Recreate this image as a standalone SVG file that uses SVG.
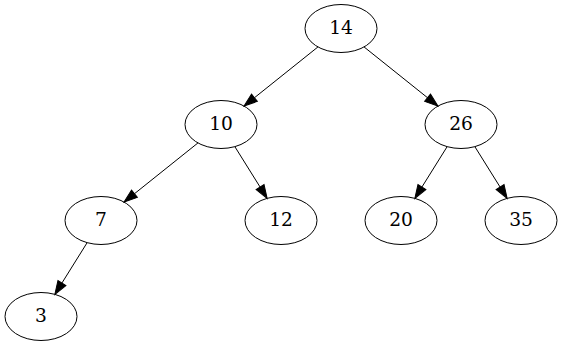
<svg xmlns="http://www.w3.org/2000/svg" width="563" height="347" viewBox="0 0 563 347">
<defs>
<style>
.node ellipse{fill:none;stroke:#000;stroke-width:1}
.node text{font-family:"DejaVu Serif",serif;font-size:18.67px;text-anchor:middle;fill:#000}
.edge line{stroke:#000;stroke-width:1;fill:none}
</style>
<marker id="arr" markerUnits="userSpaceOnUse" markerWidth="16" markerHeight="12" refX="0" refY="5" orient="auto" viewBox="-1 0 16 10" overflow="visible">
<path d="M0,0.33 L13.33,5 L0,9.67 Z" fill="#000" stroke="#000" stroke-width="1"/>
</marker>
</defs>
<rect width="563" height="347" fill="#fff"/>
<g id="edges" class="edge">
<line x1="317.96" y1="46.93" x2="254.45" y2="97.74" marker-end="url(#arr)"/>
<line x1="364.04" y1="46.93" x2="427.55" y2="97.74" marker-end="url(#arr)"/>
<line x1="197.96" y1="142.93" x2="134.45" y2="193.74" marker-end="url(#arr)"/>
<line x1="234.85" y1="146.65" x2="260.08" y2="187.05" marker-end="url(#arr)"/>
<line x1="447.15" y1="146.65" x2="421.92" y2="187.05" marker-end="url(#arr)"/>
<line x1="474.85" y1="146.65" x2="500.08" y2="187.05" marker-end="url(#arr)"/>
<line x1="87.15" y1="242.65" x2="61.92" y2="283.05" marker-end="url(#arr)"/>
</g>
<g id="n14" class="node"><ellipse cx="341" cy="28.5" rx="36" ry="24"/><text x="341" y="34.1">14</text></g>
<g id="n10" class="node"><ellipse cx="221" cy="124.5" rx="36" ry="24"/><text x="221" y="130.1">10</text></g>
<g id="n26" class="node"><ellipse cx="461" cy="124.5" rx="36" ry="24"/><text x="461" y="130.1">26</text></g>
<g id="n7" class="node"><ellipse cx="101" cy="220.5" rx="36" ry="24"/><text x="101" y="226.1">7</text></g>
<g id="n12" class="node"><ellipse cx="281" cy="220.5" rx="36" ry="24"/><text x="281" y="226.1">12</text></g>
<g id="n20" class="node"><ellipse cx="401" cy="220.5" rx="36" ry="24"/><text x="401" y="226.1">20</text></g>
<g id="n35" class="node"><ellipse cx="521" cy="220.5" rx="36" ry="24"/><text x="521" y="226.1">35</text></g>
<g id="n3" class="node"><ellipse cx="41" cy="316.5" rx="36" ry="24"/><text x="41" y="322.1">3</text></g>
</svg>
